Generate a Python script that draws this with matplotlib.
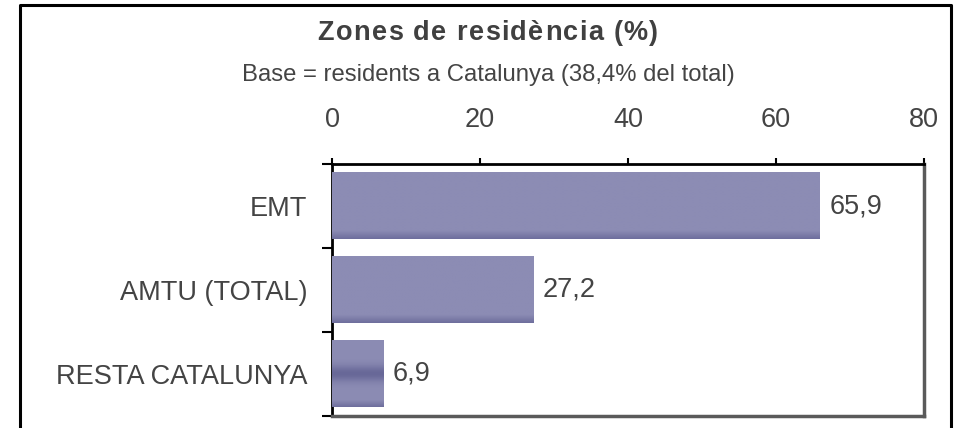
import matplotlib
matplotlib.use("Agg")
import matplotlib.pyplot as plt
import numpy as np

plt.rcParams["font.family"] = ["Liberation Sans", "DejaVu Sans"]

# data
categories = ["EMT", "AMTU (TOTAL)", "RESTA CATALUNYA"]
values = [65.9, 27.2, 6.9]
value_labels = ["65,9", "27,2", "6,9"]
x_ticks = [0, 20, 40, 60, 80]

title = "Zones de residència (%)"
subtitle = "Base = residents a Catalunya (38,4% del total)"

BAR_COLOR = "#8c8cb4"
TEXT_COLOR = "#444444"
W, H = 957, 428

fig = plt.figure(figsize=(W / 100, H / 100), dpi=100)
renderer = fig.canvas.get_renderer()


def spaced_text(x_center, y, s, gap, **kw):
    # draw a string letter by letter with extra tracking, centred on x_center (px)
    def width(txt):
        t = fig.text(0, 0, txt, **kw)
        w = t.get_window_extent(renderer).width
        t.remove()
        return w
    bar_w = width("|")
    offsets = [0] + [width(s[:i] + "|") - bar_w for i in range(1, len(s))]
    total = width(s) + gap * (len(s) - 1)
    x0 = x_center - total / 2
    for i, ch in enumerate(s):
        fig.text((x0 + offsets[i] + gap * i) / W, y, ch, ha="left",
                 va="baseline", **kw)


# outer frame (open at the bottom)
fig.add_artist(plt.Line2D([20 / W, 20 / W, 951 / W, 951 / W],
                          [-0.01, 1 - 5 / H, 1 - 5 / H, -0.01],
                          transform=fig.transFigure, color="black", lw=2.2))

spaced_text(488, 1 - 40.5 / H, title, 1.4, fontsize=19.5, fontweight="bold",
            color="#404040")
fig.text(488 / W, 1 - 80.5 / H, subtitle, ha="center", va="baseline",
         fontsize=17.2, color=TEXT_COLOR)

ax = fig.add_axes([332 / W, 1 - 416 / H, 592 / W, 252 / H])
y = np.arange(len(categories))
bars = ax.barh(y, values, height=0.79, color=BAR_COLOR, zorder=2)

# soft vertical shading on the bars, like the original fill effect
light = np.array([0x8c, 0x8c, 0xb4]) / 255
dark = np.array([0x68, 0x68, 0x98]) / 255
for i, b in enumerate(bars):
    t = np.linspace(0, 1, 60)
    if i == len(bars) - 1:
        w = np.exp(-((t - 0.5) / 0.12) ** 2) + np.clip((t - 0.9) / 0.1, 0, 1) * 0.8
    else:
        w = np.clip((t - 0.88) / 0.12, 0, 1) * 0.8
    w = np.clip(w, 0, 1)[:, None]
    img = (light * (1 - w) + dark * w)[:, None, :]
    x0, y0 = b.get_x(), b.get_y()
    ax.imshow(img, extent=(x0, x0 + b.get_width(), y0 + b.get_height(), y0),
              aspect="auto", zorder=3, interpolation="bilinear")

for v, lab, yy in zip(values, value_labels, y):
    ax.text(v + 1.3, yy, lab, ha="left", va="center", fontsize=19.5,
            color=TEXT_COLOR)

ax.set_xlim(0, 80)
ax.set_ylim(len(categories) - 0.5, -0.5)

ax.xaxis.tick_top()
ax.set_xticks(x_ticks)
ax.set_xticklabels([str(t) for t in x_ticks])
ax.tick_params(axis="x", which="major", direction="out", length=4, width=1.5,
               pad=18, labelsize=19.5, labelcolor=TEXT_COLOR, color="black")

ax.set_yticks(np.arange(len(categories) + 1) - 0.5)
ax.set_yticklabels([])
ax.tick_params(axis="y", which="major", direction="out", length=7, width=1.5,
               color="black")
ax.set_yticks(y, minor=True)
ax.set_yticklabels(categories, minor=True)
ax.tick_params(axis="y", which="minor", length=0, pad=18, labelsize=19.5,
               labelcolor=TEXT_COLOR)

for side in ["top", "left"]:
    ax.spines[side].set_color("black")
    ax.spines[side].set_linewidth(2)
for side in ["right", "bottom"]:
    ax.spines[side].set_color("#5a5a5a")
    ax.spines[side].set_linewidth(2.5)

fig.savefig("out.png", dpi=100)
